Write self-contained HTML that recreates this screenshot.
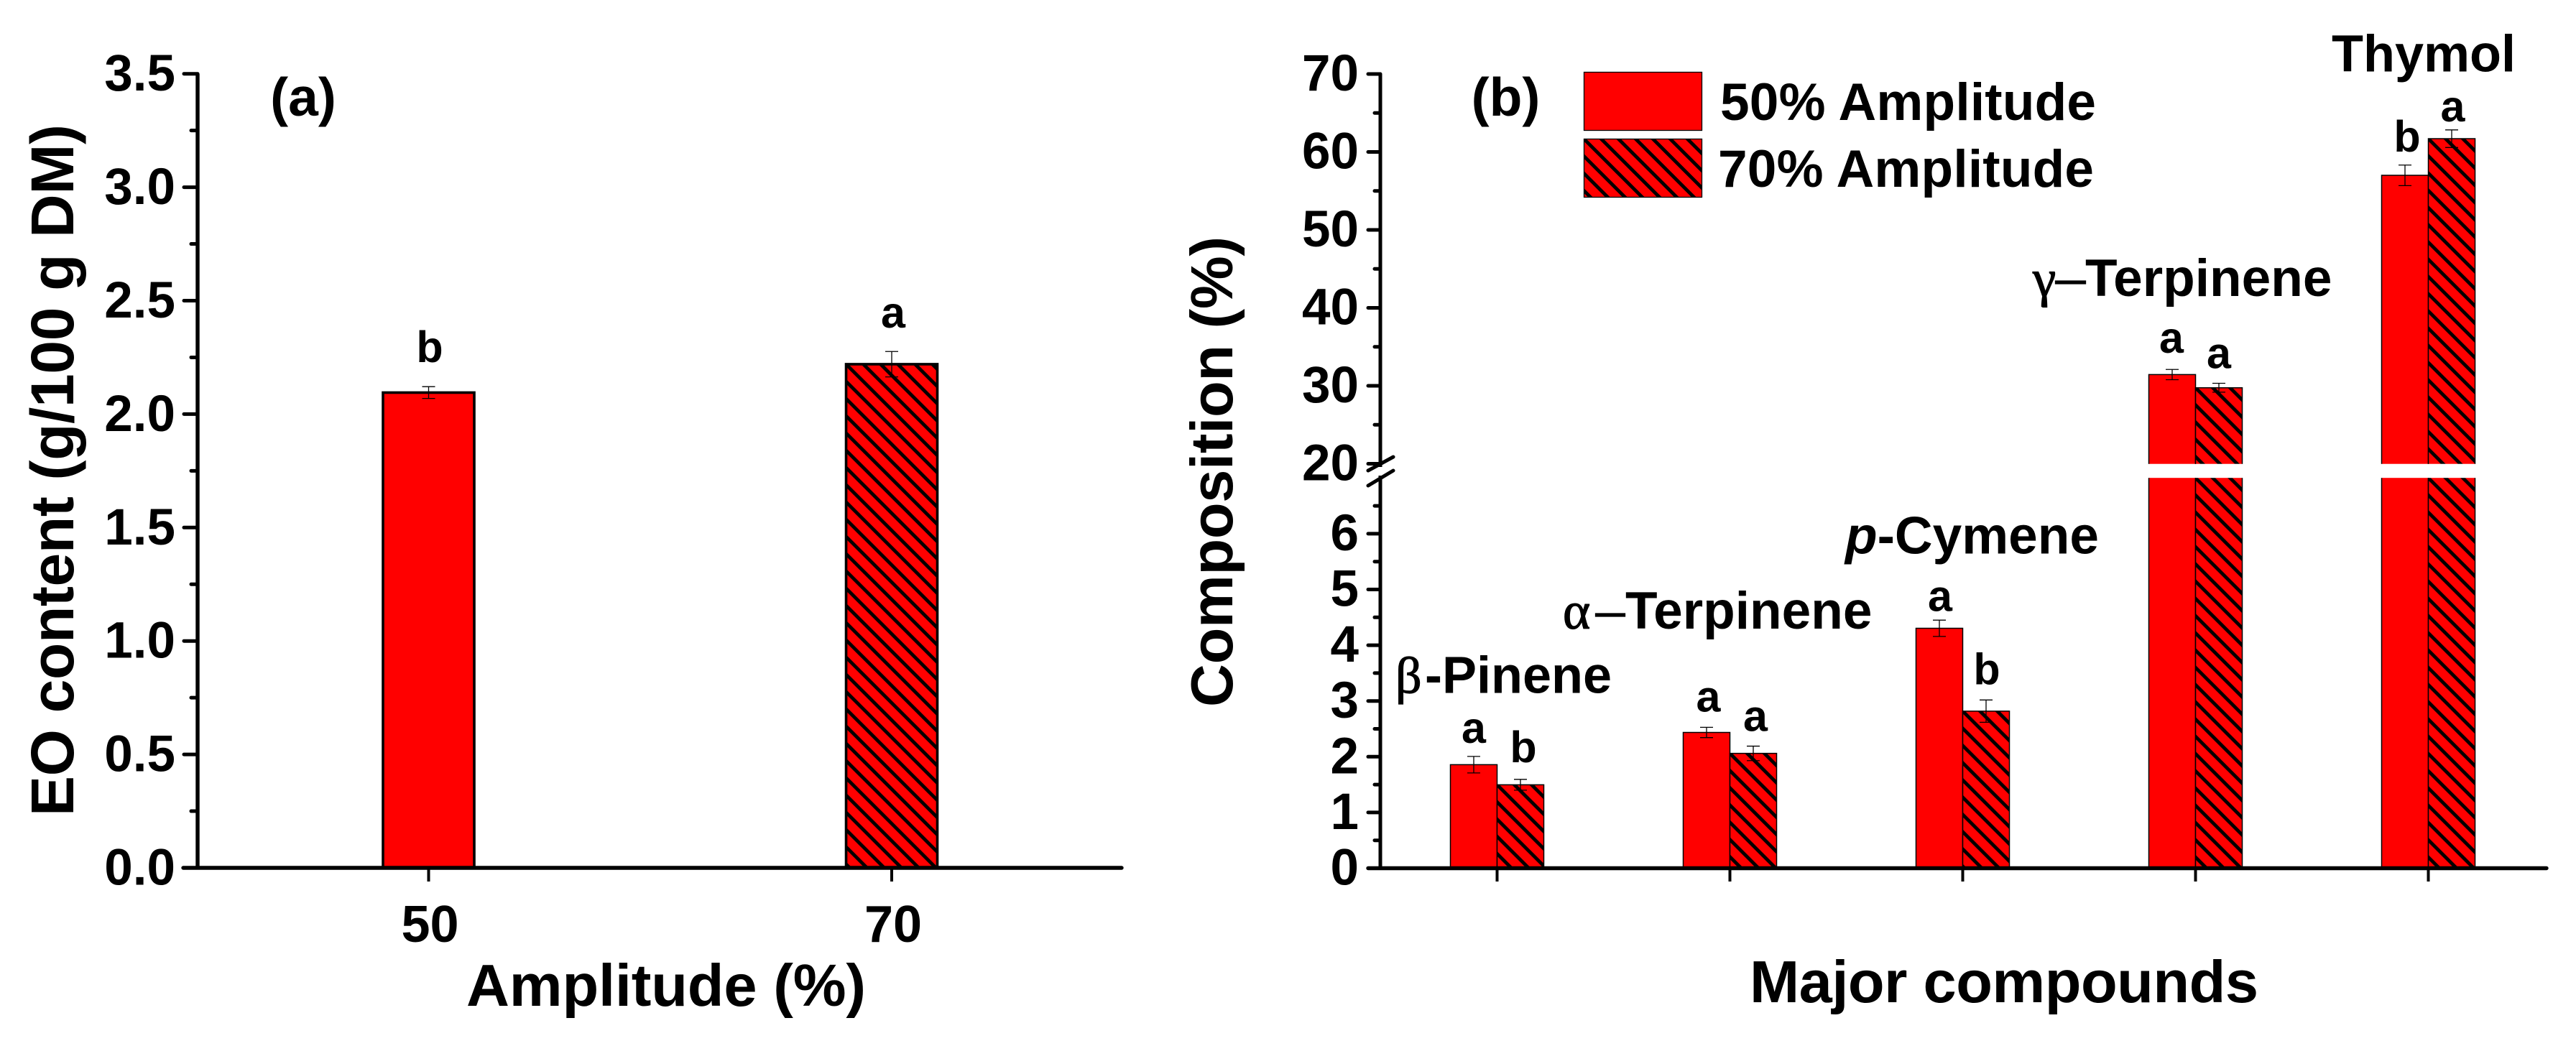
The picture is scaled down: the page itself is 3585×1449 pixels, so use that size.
<!DOCTYPE html>
<html lang="en">
<head>
<meta charset="utf-8">
<title>EO content and composition by amplitude</title>
<style>
  html, body { margin: 0; padding: 0; background: #fff; }
  svg { display: block; }
  text { font-family: "Liberation Sans", Arial, sans-serif; font-weight: 700; fill: #000; }
  .greek { font-family: "Liberation Serif", "DejaVu Serif", serif; font-weight: 400; stroke: #000; stroke-width: 1.2px; }
</style>
</head>
<body>
<svg id="figure" xmlns="http://www.w3.org/2000/svg" width="3585" height="1449" viewBox="0 0 3585 1449">
  <rect x="0" y="0" width="3585" height="1449" fill="#fff"/>
  <defs id="defs">
    <pattern id="legend-hatch" patternUnits="userSpaceOnUse" x="2204" y="193" width="24" height="24">
      <rect x="0" y="0" width="24" height="24" fill="#f00"/>
      <path d="M-6,-6 L30,30 M-6,18 L6,30 M18,-6 L30,6" stroke="#000" stroke-width="4.8" fill="none"/>
    </pattern>
  </defs>

  <g id="panel-a"></g>
  <g id="panel-b"></g>

  <text transform="translate(102,1136) rotate(-90)" font-size="84" textLength="963">EO content (g/100 g DM)</text>
  <text x="649" y="1400" font-size="83" textLength="556">Amplitude (%)</text>
  <text x="422" y="161" font-size="75" text-anchor="middle">(a)</text>

  <text transform="translate(1715,984) rotate(-90)" font-size="83" textLength="655">Composition (%)</text>
  <text x="2435" y="1395" font-size="83" textLength="708">Major compounds</text>
  <text x="2095.5" y="161" font-size="75" text-anchor="middle">(b)</text>

  <g>
    <rect x="2204.5" y="100.5" width="164" height="81" fill="#f00" stroke="#000" stroke-width="1.3"/>
    <text x="2394" y="167" font-size="73" textLength="523">50% Amplitude</text>
    <rect x="2204.5" y="193.5" width="164" height="81" fill="url(#legend-hatch)" stroke="#000" stroke-width="1.3"/>
    <text x="2391" y="260" font-size="73" textLength="523">70% Amplitude</text>
  </g>

  <text y="964.5" font-size="72"><tspan class="greek" x="1942">β</tspan><tspan x="1983">-Pinene</tspan></text>
  <text y="875" font-size="73"><tspan class="greek" x="2175">α</tspan><tspan class="greek" x="2221" font-size="80">–</tspan><tspan x="2262">Terpinene</tspan></text>
  <text y="770.5" font-size="73"><tspan x="2568" font-style="italic">p</tspan><tspan>-Cymene</tspan></text>
  <text y="412" font-size="73"><tspan class="greek" x="2829">γ</tspan><tspan class="greek" x="2861" font-size="82">–</tspan><tspan x="2902">Terpinene</tspan></text>
  <text x="3245" y="99.5" font-size="72">Thymol</text>
</svg>

<script>
// ---- Panel (a) data ----
const amplitudeCategories = ['50', '70'];
const eoContent = [2.095, 2.22];
const eoError = [0.026, 0.056];
const eoTicks = ['0.0', '0.5', '1.0', '1.5', '2.0', '2.5', '3.0', '3.5'];
const eoMinorTicks = [0.25, 0.75, 1.25, 1.75, 2.25, 2.75, 3.25];

// ---- Panel (b) data ----
const compounds = ['beta-pinene', 'alpha-terpinene', 'p-cymene', 'gamma-terpinene', 'thymol'];
const composition50 = [1.857, 2.435, 4.304, 31.44, 57.0];
const composition70 = [1.497, 2.06, 2.818, 29.75, 61.7];
const error50 = [0.148, 0.092, 0.146, 0.66, 1.32];
const error70 = [0.097, 0.13, 0.2, 0.57, 1.13];
const letters50 = ['a', 'a', 'a', 'a', 'b'];
const letters70 = ['b', 'a', 'b', 'a', 'a'];
const compTicks = ['0', '1', '2', '3', '4', '5', '6', '20', '30', '40', '50', '60', '70'];
const compMinorTicks = [0.5, 1.5, 2.5, 3.5, 4.5, 5.5, 6.5, 25, 35, 45, 55, 65];

const NS = 'http://www.w3.org/2000/svg';
const svg = document.getElementById('figure');
const defs = document.getElementById('defs');
const panelA = document.getElementById('panel-a');
const panelB = document.getElementById('panel-b');
let patternCount = 0;

function mk(tag, attrs, parent, txt) {
  const el = document.createElementNS(NS, tag);
  for (const k in attrs) el.setAttribute(k, attrs[k]);
  if (txt !== undefined) el.textContent = txt;
  if (parent) parent.appendChild(el);
  return el;
}

// ---- axis functions ----
function yA(v) { return 1208 - 315.8 * v; }
function xA(i) { return 596.5 + 644.5 * i; }
const BREAK_LOW_TOP = 665.2;     // y of value 7
const BREAK_HIGH_BOTTOM = 645.7; // y of value 20
function yB(v) {
  if (v <= 7) return 1208.5 - 77.6 * v;
  return 103 + (70 - v) * 10.85;
}
function xB(i) { return 2083.5 + 324 * i; }

function hatchPattern(x, y, sw) {
  patternCount += 1;
  const id = 'hatch-' + patternCount;
  const p = mk('pattern', { id: id, patternUnits: 'userSpaceOnUse', x: x, y: y, width: 24, height: 24 }, defs);
  mk('rect', { x: 0, y: 0, width: 24, height: 24, fill: '#f00' }, p);
  mk('path', { d: 'M-6,-6 L30,30 M-6,18 L6,30 M18,-6 L30,6', stroke: '#000', 'stroke-width': sw, fill: 'none' }, p);
  return 'url(#' + id + ')';
}

function segment(parent, x, w, top, bottom, hatched, sw, closedTop) {
  const fill = hatched ? hatchPattern(x, top, 4.8) : '#f00';
  const r = mk('rect', { x: x, y: top, width: w, height: bottom - top, fill: fill }, parent);
  
  
  const d = closedTop
    ? 'M' + x + ',' + bottom + ' V' + top + ' H' + (x + w) + ' V' + bottom
    : 'M' + x + ',' + bottom + ' V' + top + ' M' + (x + w) + ',' + top + ' V' + bottom;
  const o = mk('path', { d: d, fill: 'none', stroke: '#000', 'stroke-width': sw }, parent);
  
  
}

function errorBar(parent, cx, yTop, yBottom) {
  const e = mk('path', {
    d: 'M' + (cx - 9) + ',' + yTop + ' H' + (cx + 9) + ' M' + cx + ',' + yTop + ' V' + yBottom + ' M' + (cx - 9) + ',' + yBottom + ' H' + (cx + 9),
    fill: 'none', stroke: '#000', 'stroke-width': 1.3
  }, parent);
  
  
}

function letter(parent, cx, baseline, s) {
  const t = mk('text', { x: cx, y: baseline, 'font-size': 61, 'text-anchor': 'middle' }, parent, s);
  
  
}

function line(parent, x1, y1, x2, y2, sw, cap) {
  return mk('line', { x1: x1, y1: y1, x2: x2, y2: y2, stroke: '#000', 'stroke-width': sw, 'stroke-linecap': cap || 'round' }, parent);
}

// ---- Panel (a) ----
(function drawPanelA() {
  const g = panelA;
  eoContent.forEach(function (v, i) {
    const cx = xA(i);
    const x = cx - 63.5;
    segment(g, x, 127, yA(v), yA(0), i === 1, 3.6, true);
    errorBar(g, cx, yA(v + eoError[i]), yA(v - eoError[i]));
    const tick = line(g, cx, 1208, cx, 1227, 4, 'butt');
    
    
    const lab = mk('text', { x: cx + 2, y: 1311, 'font-size': 72, 'text-anchor': 'middle' }, g, amplitudeCategories[i]);
    
    
  });
  letter(g, xA(0) + 1.5, yA(eoContent[0] + eoError[0]) - 34, 'b');
  letter(g, xA(1) + 2, yA(eoContent[1] + eoError[1]) - 33, 'a');

  const yAxis = line(g, 275, yA(3.5), 275, yA(0), 5.4, 'butt');
  
  
  const xAxis = line(g, 255, 1208, 1561, 1208, 5.4, 'round');
  
  

  eoTicks.forEach(function (s) {
    const y = yA(parseFloat(s));
    const t = line(g, 256, y, 275, y, 5, 'round');
    
    
    const lab = mk('text', { x: 244, y: y + 23.5, 'font-size': 71, 'text-anchor': 'end' }, g, s);
    
    
  });
  eoMinorTicks.forEach(function (v) {
    const t = line(g, 266, yA(v), 275, yA(v), 5, 'round');
    
    
  });
})();

// ---- Panel (b) ----
function compoundBar(g, value, err, x, hatched) {
  const w = 65;
  const cx = x + w / 2;
  if (value > 20) {
    segment(g, x, w, yB(value), BREAK_HIGH_BOTTOM, hatched, 1.5, true);
    segment(g, x, w, BREAK_LOW_TOP, yB(0), hatched, 1.5, false);
  } else {
    segment(g, x, w, yB(value), yB(0), hatched, 1.5, true);
  }
  errorBar(g, cx, yB(value + err), yB(value - err));
}

(function drawPanelB() {
  const g = panelB;
  compounds.forEach(function (name, i) {
    const c = xB(i);
    compoundBar(g, composition50[i], error50[i], c - 65, false);
    compoundBar(g, composition70[i], error70[i], c, true);
    const tick = line(g, c, 1208.5, c, 1227, 4, 'butt');
    
    
  });

  function top50(i) { return yB(composition50[i] + error50[i]); }
  function top70(i) { return yB(composition70[i] + error70[i]); }
  letter(g, xB(0) - 32.5, top50(0) - 19, letters50[0]);
  letter(g, xB(0) + 36.5, top70(0) - 24, letters70[0]);
  letter(g, xB(1) - 30, top50(1) - 22, letters50[1]);
  letter(g, xB(1) + 35.5, top70(1) - 21, letters70[1]);
  letter(g, xB(2) - 31.5, top50(2) - 12.6, letters50[2]);
  letter(g, xB(2) + 33.5, top70(2) - 21.7, letters70[2]);
  letter(g, xB(3) - 33.5, top50(3) - 23, letters50[3]);
  letter(g, xB(3) + 32.5, top70(3) - 21, letters70[3]);
  letter(g, xB(4) - 29.5, top50(4) - 18.6, letters50[4]);
  letter(g, xB(4) + 34, top70(4) - 11.6, letters70[4]);

  const upper = line(g, 1921, yB(70), 1921, 650, 5, 'butt');
  
  
  const lower = line(g, 1921, 662, 1921, yB(0), 5, 'butt');
  
  
  const xAxis = line(g, 1904, yB(0), 3544, yB(0), 5.4, 'round');
  
  

  const slash1 = line(g, 1904, 655, 1939, 636, 5, 'round');
  
  
  const slash2 = line(g, 1904, 676, 1939, 655, 5, 'round');
  
  

  compTicks.forEach(function (s) {
    const y = yB(parseFloat(s) === 20 ? 20.001 : parseFloat(s));
    const t = line(g, 1904, y, 1921, y, 5, 'round');
    
    
    const lab = mk('text', { x: 1891, y: y + 23, 'font-size': 71, 'text-anchor': 'end' }, g, s);
    
    
  });
  compMinorTicks.forEach(function (v) {
    const t = line(g, 1913, yB(v), 1921, yB(v), 5, 'round');
    
    
  });
})();
</script>
</body>
</html>
